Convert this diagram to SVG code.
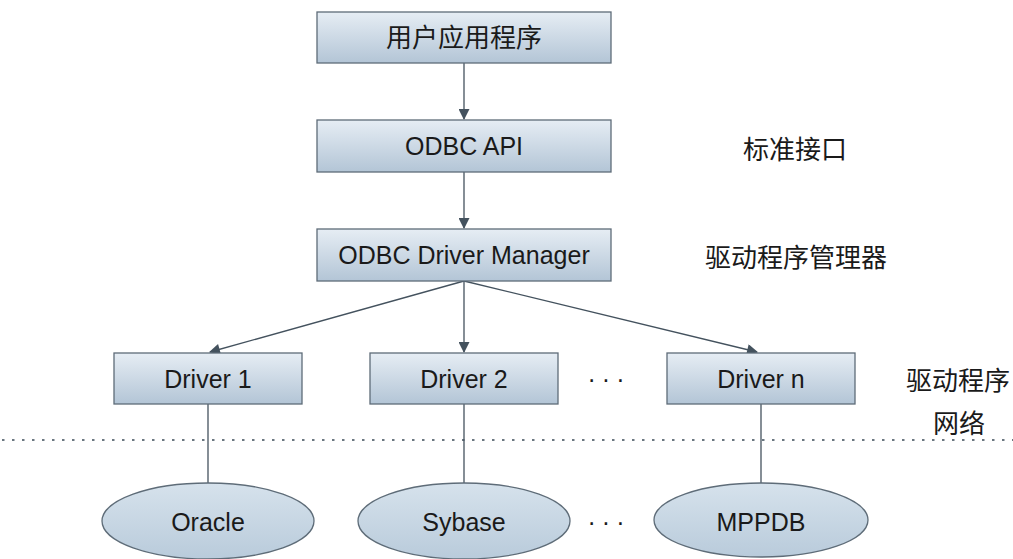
<svg xmlns="http://www.w3.org/2000/svg" width="1013" height="559" viewBox="0 0 1013 559">
<defs>
<linearGradient id="gb" x1="0" y1="0" x2="0" y2="1">
<stop offset="0" stop-color="#e6edf4"/>
<stop offset="1" stop-color="#b3c5d6"/>
</linearGradient>
<linearGradient id="ge" x1="0" y1="0" x2="0" y2="1">
<stop offset="0" stop-color="#d6e2ec"/>
<stop offset="1" stop-color="#b9cbdb"/>
</linearGradient>
<marker id="ah" viewBox="0 0 10 10" refX="9" refY="5" markerWidth="12" markerHeight="11" markerUnits="userSpaceOnUse" orient="auto">
<path d="M0,0 L10,5 L0,10 Z" fill="#44525e"/>
</marker>
<style>
.box{fill:url(#gb);stroke:#5e6c78;stroke-width:1.3}
.ell{fill:url(#ge);stroke:#5e6c78;stroke-width:1.3}
.t{font-family:"Liberation Sans","Noto Sans CJK SC",sans-serif;font-size:25px;fill:#1a1a1a;text-anchor:middle;dominant-baseline:central}
.z{font-size:26px}
.c{stroke:#44525e;stroke-width:1.3;fill:none}
.dot{stroke:#6a7680;stroke-width:2;stroke-dasharray:2.5 7.5;fill:none}
</style>
</defs>
<rect width="1013" height="559" fill="#ffffff"/>
<line class="dot" x1="2" y1="440" x2="1013" y2="440"/>
<g id="connectors">
<line class="c" x1="464" y1="63" x2="464" y2="119" marker-end="url(#ah)"/>
<line class="c" x1="464" y1="172" x2="464" y2="228" marker-end="url(#ah)"/>
<line class="c" x1="464" y1="281" x2="464" y2="352" marker-end="url(#ah)"/>
<line class="c" x1="464" y1="281" x2="210" y2="352" marker-end="url(#ah)"/>
<line class="c" x1="464" y1="281" x2="757" y2="352" marker-end="url(#ah)"/>
<line class="c" x1="208" y1="404" x2="208" y2="483"/>
<line class="c" x1="464" y1="404" x2="464" y2="483"/>
<line class="c" x1="761" y1="404" x2="761" y2="483"/>
</g>
<g id="app"><rect class="box" x="317" y="12" width="294" height="51"/><text class="t z" x="464" y="38">用户应用程序</text></g>
<g id="api"><rect class="box" x="317" y="120" width="294" height="52"/><text class="t" x="464" y="146">ODBC API</text></g>
<g id="dm"><rect class="box" x="317" y="229" width="294" height="52"/><text class="t" x="464" y="255">ODBC Driver Manager</text></g>
<g id="d1"><rect class="box" x="114" y="353" width="188" height="51"/><text class="t" x="208" y="379">Driver 1</text></g>
<g id="d2"><rect class="box" x="370" y="353" width="188" height="51"/><text class="t" x="464" y="379">Driver 2</text></g>
<g id="dn"><rect class="box" x="667" y="353" width="188" height="51"/><text class="t" x="761" y="379">Driver n</text></g>
<g id="oracle"><ellipse class="ell" cx="208" cy="521" rx="106" ry="38"/><text class="t" x="208" y="522">Oracle</text></g>
<g id="sybase"><ellipse class="ell" cx="464" cy="521" rx="106" ry="38"/><text class="t" x="464" y="522">Sybase</text></g>
<g id="mppdb"><ellipse class="ell" cx="761" cy="520" rx="107" ry="37"/><text class="t" x="761" y="522">MPPDB</text></g>
<g id="labels">
<text class="t" x="609" y="379" letter-spacing="6">···</text>
<text class="t" x="609" y="522" letter-spacing="6">···</text>
<text class="t z" x="795" y="150">标准接口</text>
<text class="t z" x="796" y="258">驱动程序管理器</text>
<text class="t z" x="958" y="381">驱动程序</text>
<text class="t z" x="959" y="424">网络</text>
</g>
</svg>
